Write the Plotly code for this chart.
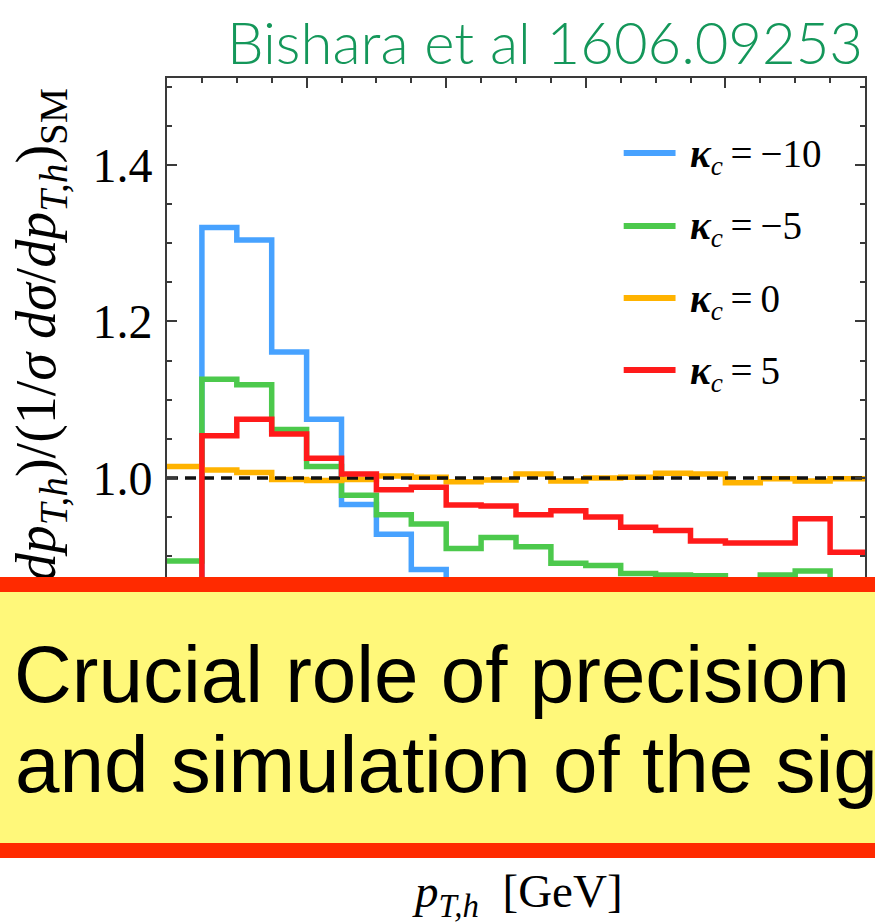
import plotly.graph_objects as go

# ---- data -------------------------------------------------------------
pt_edges = [0, 10, 20, 30, 40, 50, 60, 70, 80, 90, 100,
            110, 120, 130, 140, 150, 160, 170, 180, 190, 200]

kappa_labels = ["\u221210", "\u22125", "0", "5"]

ratio_kc_m10 = [0.74, 1.320, 1.304, 1.161, 1.075, 0.966, 0.928, 0.883, 0.84, 0.82,
                0.80, 0.79, 0.78, 0.77, 0.765, 0.76, 0.75, 0.745, 0.74, 0.73]
ratio_kc_m5 = [0.894, 1.126, 1.119, 1.062, 1.0145, 0.978, 0.953, 0.941, 0.910, 0.924,
               0.912, 0.891, 0.888, 0.878, 0.876, 0.875, 0.869, 0.876, 0.881, 0.862]
ratio_kc_0 = [1.0145, 1.010, 1.007, 0.998, 0.9966, 0.998, 1.0026, 1.001, 0.995, 0.9975,
              1.005, 0.996, 1.000, 1.001, 1.006, 1.005, 0.994, 0.999, 0.996, 0.999]
ratio_kc_p5 = [0.80, 1.054, 1.075, 1.056, 1.025, 1.005, 0.985, 0.988, 0.9655, 0.964,
               0.953, 0.958, 0.950, 0.937, 0.933, 0.9195, 0.917, 0.917, 0.948, 0.905]

series = [ratio_kc_m10, ratio_kc_m5, ratio_kc_0, ratio_kc_p5]
colors = ["#47A2FF", "#4CC94C", "#FFB300", "#FF1A1A"]

# ---- geometry helpers (pixel -> paper) --------------------------------
W, H = 875, 924
ML, MR, MT, MB = 167, 8, 78, 133
PW, PH = W - ML - MR, H - MT - MB


def px(x):
    return (x - ML) / PW


def py(y):
    return (H - MB - y) / PH


SERIF = "Liberation Serif, Times New Roman, serif"
SANS = "Liberation Sans, Arial, Helvetica, sans-serif"

fig = go.Figure()

# histograms drawn as steps; the SM reference line sits between the
# zero-coupling curve and the kappa_c = 5 curve
for i, (vals, col) in enumerate(zip(series, colors)):
    if i == 3:
        fig.add_trace(go.Scatter(
            x=[pt_edges[0], pt_edges[-1]], y=[1.0, 1.0], mode="lines",
            line=dict(color="#111111", width=3.5, dash="11px,7px"),
            hoverinfo="skip"))
    fig.add_trace(go.Scatter(
        x=pt_edges, y=vals + [vals[-1]], mode="lines",
        line=dict(shape="hv", width=5.5, color=col),
        name="\u03ba_c = " + kappa_labels[i]))

axis_common = dict(
    showline=True, linecolor="#3a3a3a", linewidth=1.8, mirror="allticks",
    ticks="inside", tickcolor="#3a3a3a", tickwidth=1.5, ticklen=10,
    showgrid=False, zeroline=False,
    tickfont=dict(family=SERIF, size=48, color="black"),
)

fig.update_xaxes(range=[0, 200], tick0=0, dtick=40,
                 minor=dict(dtick=10, ticks="inside", ticklen=5,
                            tickcolor="#3a3a3a", tickwidth=1.5),
                 **axis_common)
fig.update_yaxes(range=[0.6, 1.511], tick0=0.6, dtick=0.2, tickformat=".1f",
                 ticklabelstandoff=3,
                 minor=dict(dtick=0.05, ticks="inside", ticklen=5,
                            tickcolor="#3a3a3a", tickwidth=1.5),
                 **axis_common)

annotations = []

# reference
annotations.append(dict(
    text="Bishara et al 1606.09253", xref="paper", yref="paper",
    x=px(867), y=py(41), xanchor="right", yanchor="middle", showarrow=False,
    font=dict(family="Lato, Open Sans, sans-serif", size=58, color="#14975A",
              weight=300)))

# legend
leg_y = [153, 226, 298, 370]
shapes = []
for lab, col, yy in zip(kappa_labels, colors, leg_y):
    shapes.append(dict(type="line", xref="paper", yref="paper",
                       x0=px(625), x1=px(677), y0=py(yy), y1=py(yy),
                       line=dict(color=col, width=6)))
    annotations.append(dict(
        text="<b><i>\u03ba</i></b><sub><i>c</i></sub>\u2009=\u2009" + lab,
        xref="paper", yref="paper", x=px(689), y=py(yy + 3),
        xanchor="left", yanchor="middle", showarrow=False,
        font=dict(family=SERIF, size=39, color="black")))

# axis titles
annotations.append(dict(
    text="(1/<i>\u03c3</i> <i>d\u03c3</i>/<i>dp</i><sub><i>T,h</i></sub>)"
         "/(1/<i>\u03c3</i> <i>d\u03c3</i>/<i>dp</i><sub><i>T,h</i></sub>)<sub>SM</sub>",
    xref="paper", yref="paper", x=px(40), y=py(86), xanchor="center",
    yanchor="top", textangle=-90, showarrow=False,
    font=dict(family=SERIF, size=56, color="black")))
annotations.append(dict(
    text="<i>p</i><sub><i>T,h</i></sub>  [GeV]",
    xref="paper", yref="paper", x=px(519), y=py(894), xanchor="center",
    yanchor="middle", showarrow=False,
    font=dict(family=SERIF, size=47, color="black")))

# highlighted message box on top of the lower part of the plot
annotations.append(dict(
    text="Crucial role of precision", xref="paper", yref="paper",
    x=px(-40), y=py(577), xanchor="left", yanchor="top", showarrow=False,
    width=960, height=175, align="left", valign="top",
    bgcolor="#FFF87A", bordercolor="#FF2A00", borderwidth=15, borderpad=38,
    font=dict(family=SANS, size=80, color="black")))
annotations.append(dict(
    text="and simulation of the signal", xref="paper", yref="paper",
    x=px(13), y=py(793), xanchor="left", yanchor="bottom", showarrow=False,
    yshift=-18,
    font=dict(family=SANS, size=80, color="black")))

fig.update_layout(
    width=W, height=H, margin=dict(l=ML, r=MR, t=MT, b=MB),
    plot_bgcolor="white", paper_bgcolor="white", showlegend=False,
    annotations=annotations, shapes=shapes,
)

fig.write_html("out.html")
